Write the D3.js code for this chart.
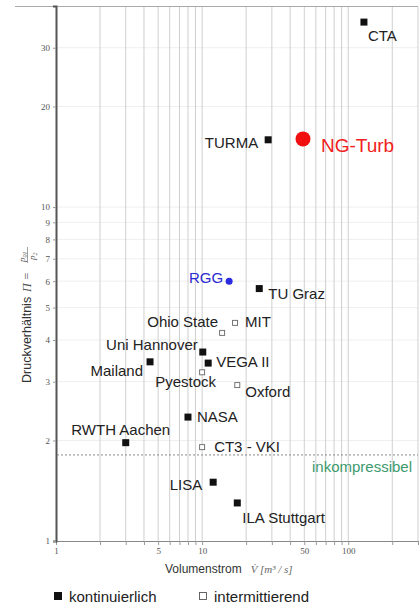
<!DOCTYPE html>
<html>
<head>
<meta charset="utf-8">
<script src="https://cdn.jsdelivr.net/npm/d3@7"></script>
<style>
  html, body { margin: 0; padding: 0; background: #fff; }
  svg { display: block; font-family: "Liberation Sans", Arial, sans-serif; }
</style>
</head>
<body>
<svg width="419" height="607"></svg>
<script>
// ---- Dados
const names   = ['CTA', 'TURMA', 'NG-Turb', 'RGG', 'TU Graz', 'MIT', 'Ohio State', 'Uni Hannover',
                 'VEGA II', 'Pyestock', 'Mailand', 'Oxford', 'NASA', 'RWTH Aachen', 'CT3 - VKI',
                 'LISA', 'ILA Stuttgart'];
const volume  = [128, 28.3, 49, 15.3, 24.6, 16.8, 13.7, 10.1, 11, 10, 4.4, 17.4, 8.0, 3.0, 10, 11.9, 17.4];
const ratio   = [35.8, 15.9, 16, 6.0, 5.7, 4.5, 4.2, 3.68, 3.41, 3.2, 3.44, 2.93, 2.35, 1.97, 1.91, 1.50, 1.30];
const mode    = ['kont', 'kont', 'ng', 'rgg', 'kont', 'inter', 'inter', 'kont',
                 'kont', 'inter', 'kont', 'inter', 'kont', 'kont', 'inter', 'kont', 'kont'];
const incompressibleLimit = 1.81;

const xTickLabels = [1, 5, 10, 50, 100];
const yTickLabels = [1, 2, 3, 4, 5, 6, 7, 8, 9, 10, 20, 30];
const xGridValues = [2, 3, 4, 5, 6, 7, 8, 9, 10, 20, 30, 40, 50, 60, 70, 80, 90, 100, 200, 300];

// posição dos rótulos em relação ao ponto (dx, dy, anchor)
const labelPos = {
    'CTA': [4, 19, 'start'],
    'TURMA': [-10, 8, 'end'],
    'NG-Turb': [18, 13, 'start'],
    'RGG': [-6, 2, 'end'],
    'TU Graz': [9, 10, 'start'],
    'MIT': [10, 4, 'start'],
    'Ohio State': [-4, -6, 'end'],
    'Uni Hannover': [-5, -2, 'end'],
    'VEGA II': [8, 4, 'start'],
    'Pyestock': [14, 15, 'end'],
    'Mailand': [-7, 14, 'end'],
    'Oxford': [8, 12, 'start'],
    'NASA': [9, 5, 'start'],
    'RWTH Aachen': [-5, -8, 'middle'],
    'CT3 - VKI': [12, 5, 'start'],
    'LISA': [-11, 8, 'end'],
    'ILA Stuttgart': [5, 20, 'start']
};

const data = names.map((n, i) => ({ name: n, v: volume[i], p: ratio[i], mode: mode[i] }));

const svg = d3.select('svg');

// ---- Escalas
const mapX = d3.scaleLog().domain([1, 300]).range([56, 418]);
const mapY = d3.scaleLog().domain([1, 40]).range([541, 6]);

// ---- Grade
svg.append('g')
    .selectAll('line')
    .data(yTickLabels.slice(1))
    .join('line')
    .attr('x1', 57).attr('x2', 418)
    .attr('y1', d => mapY(d)).attr('y2', d => mapY(d))
    .attr('stroke', '#efefef')
    .attr('stroke-width', 1);

svg.append('g')
    .selectAll('line')
    .data(xGridValues)
    .join('line')
    .attr('x1', d => mapX(d)).attr('x2', d => mapX(d))
    .attr('y1', 7).attr('y2', 541)
    .attr('stroke', '#cfcfcf')
    .attr('stroke-width', 1);

// linha superior
svg.append('line')
    .attr('x1', 15).attr('x2', 418)
    .attr('y1', 6.5).attr('y2', 6.5)
    .attr('stroke', '#aaa');

// ---- Eixos
const xAxis = d3.axisBottom(mapX)
    .tickValues([1].concat(xGridValues))
    .tickSize(4)
    .tickFormat(d => xTickLabels.includes(d) ? d : '');

svg.append('g')
    .attr('id', 'axisX')
    .attr('transform', 'translate(0, 541)')
    .call(xAxis)
    .call(g => g.select('.domain').attr('stroke', '#888'))
    .call(g => g.selectAll('.tick line').attr('stroke', '#999'))
    .call(g => g.selectAll('.tick text')
        .attr('font-family', '"Liberation Serif", serif')
        .attr('font-size', 9)
        .attr('fill', '#555')
        .attr('y', 7));

const yAxis = d3.axisLeft(mapY)
    .tickValues(yTickLabels)
    .tickSize(3)
    .tickFormat(d => d);

svg.append('g')
    .attr('id', 'axisY')
    .attr('transform', 'translate(56, 0)')
    .call(yAxis)
    .call(g => g.select('.domain').attr('stroke', '#555').attr('stroke-width', 2))
    .call(g => g.selectAll('.tick line').attr('stroke', '#999'))
    .call(g => g.selectAll('.tick text')
        .attr('font-family', '"Liberation Serif", serif')
        .attr('font-size', 9)
        .attr('fill', '#555'));

// ---- Limite inkompressibel
svg.append('line')
    .attr('x1', 57).attr('x2', 418)
    .attr('y1', mapY(incompressibleLimit)).attr('y2', mapY(incompressibleLimit))
    .attr('stroke', '#888')
    .attr('stroke-dasharray', '2,2');

svg.append('text')
    .attr('x', 412)
    .attr('y', mapY(incompressibleLimit) + 17)
    .attr('text-anchor', 'end')
    .attr('font-size', '15px')
    .attr('fill', '#3d9a6e')
    .text('inkompressibel');

// ---- Pontos
const pts = svg.append('g').attr('id', 'group');

pts.selectAll('rect.kont')
    .data(data.filter(d => d.mode === 'kont'))
    .join('rect')
    .attr('class', 'kont')
    .attr('x', d => mapX(d.v) - 3.5)
    .attr('y', d => mapY(d.p) - 3.5)
    .attr('width', 7).attr('height', 7)
    .attr('fill', '#111');

pts.selectAll('rect.inter')
    .data(data.filter(d => d.mode === 'inter'))
    .join('rect')
    .attr('class', 'inter')
    .attr('x', d => mapX(d.v) - 2.5)
    .attr('y', d => mapY(d.p) - 2.5)
    .attr('width', 5).attr('height', 5)
    .attr('fill', '#fff')
    .attr('stroke', '#666')
    .attr('stroke-width', 0.9);

pts.selectAll('circle')
    .data(data.filter(d => d.mode === 'ng' || d.mode === 'rgg'))
    .join('circle')
    .attr('cx', d => mapX(d.v))
    .attr('cy', d => mapY(d.p))
    .attr('r', d => d.mode === 'ng' ? 7.5 : 3.5)
    .attr('fill', d => d.mode === 'ng' ? '#f01010' : '#2a2ae0');

pts.selectAll('text')
    .data(data)
    .join('text')
    .attr('x', d => mapX(d.v) + labelPos[d.name][0])
    .attr('y', d => mapY(d.p) + labelPos[d.name][1])
    .attr('text-anchor', d => labelPos[d.name][2])
    .attr('font-size', d => d.mode === 'ng' ? '19px' : '15px')
    .attr('fill', d => d.mode === 'ng' ? '#f02020' : d.mode === 'rgg' ? '#2a2ad0' : '#222')
    .text(d => d.name);

// ---- Rótulos dos eixos
const xLabel = svg.append('text')
    .attr('x', 165)
    .attr('y', 573)
    .attr('font-size', '12px')
    .attr('fill', '#333');
xLabel.append('tspan').text('Volumenstrom');
xLabel.append('tspan')
    .attr('dx', 9)
    .attr('font-family', '"Liberation Serif", serif')
    .attr('font-style', 'italic')
    .attr('font-size', '11px')
    .attr('fill', '#666')
    .text('V\u0307 [m\u00b3 / s]');

const yLabel = svg.append('g')
    .attr('transform', 'translate(31, 383) rotate(-90)')
    .attr('fill', '#333');
yLabel.append('text')
    .attr('font-size', '12.5px')
    .text('Druckverhältnis');
yLabel.append('text')
    .attr('x', 91)
    .attr('font-family', '"Liberation Serif", serif')
    .attr('font-style', 'italic')
    .attr('font-size', '12px')
    .attr('fill', '#555')
    .text('\u03a0 =');
yLabel.append('text')
    .attr('x', 121).attr('y', -6)
    .attr('font-family', '"Liberation Serif", serif')
    .attr('font-style', 'italic')
    .attr('font-size', '9px')
    .attr('fill', '#555')
    .text('p')
    .append('tspan').attr('font-size', '6px').attr('dy', 2).text('01');
yLabel.append('line')
    .attr('x1', 120).attr('x2', 136)
    .attr('y1', -3.5).attr('y2', -3.5)
    .attr('stroke', '#777').attr('stroke-width', 0.7);
yLabel.append('text')
    .attr('x', 123).attr('y', 4)
    .attr('font-family', '"Liberation Serif", serif')
    .attr('font-style', 'italic')
    .attr('font-size', '9px')
    .attr('fill', '#555')
    .text('p')
    .append('tspan').attr('font-size', '6px').attr('dy', 2).text('2');

// ---- Legenda
const legend = svg.append('g').attr('id', 'legend');
legend.append('rect')
    .attr('x', 54).attr('y', 592).attr('width', 8).attr('height', 8)
    .attr('fill', '#111');
legend.append('text')
    .attr('x', 69).attr('y', 602)
    .attr('font-size', '15px').attr('fill', '#222')
    .text('kontinuierlich');
legend.append('rect')
    .attr('x', 199.5).attr('y', 592.5).attr('width', 7).attr('height', 7)
    .attr('fill', '#fff').attr('stroke', '#555').attr('stroke-width', 0.9);
legend.append('text')
    .attr('x', 214).attr('y', 602)
    .attr('font-size', '15px').attr('fill', '#222')
    .text('intermittierend');
</script>
</body>
</html>
